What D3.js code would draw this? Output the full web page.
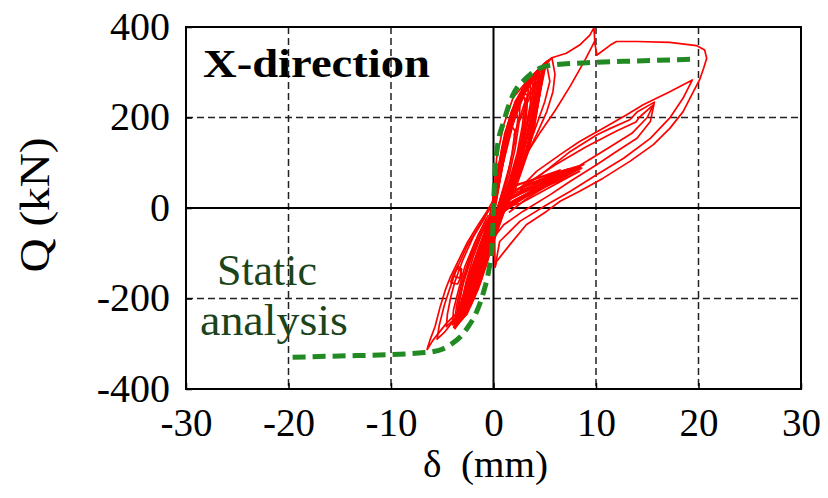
<!DOCTYPE html>
<html><head><meta charset="utf-8">
<script src="https://cdn.jsdelivr.net/npm/d3@7"></script>
<style>body{margin:0;background:#fff}svg{display:block}</style>
</head><body><svg id="c" width="828" height="498"></svg>
<script>
// ---- tick values ----
const xTicks = [-30, -20, -10, 0, 10, 20, 30];
const yTicks = [-400, -200, 0, 200, 400];
const xGrid = [-20, -10, 10, 20];
const yGrid = [-200, 200];

// ---- static analysis (green dashed) [delta mm, Q kN] ----
const staticCurve = [[-19.6,-330],[-15,-327],[-10,-324],[-7,-320],[-6,-318],[-5,-312],[-4.2,-302],[-3.2,-284],[-2.4,-260],[-1.7,-232],[-1.0,-188],[-0.4,-130],[-0.15,-90],[0,0],[0.15,80],[0.35,130],[1.0,191],[1.9,250],[3.2,287],[4.5,309],[5.8,316],[9.1,321],[14,325],[19.8,329]];

// ---- test hysteresis (red) loops [delta mm, Q kN] ----
const loopOuter = [[-6.5,-314],[-6.2,-292],[-5.7,-262],[-5.2,-218],[-4.7,-181],[-4.2,-152],[-3.4,-115],[-2.6,-78],[-1.6,-41],[-0.66,-8],[0,18],[0.3,110],[1.0,184],[1.9,243],[3.2,279],[4.2,301],[5.2,324],[5.7,332],[7.1,342],[8.4,360],[9.4,382],[9.8,398],[9.9,362],[10.1,338],[11.4,360],[12.0,368],[14.0,368],[17.2,366],[19.8,359],[20.6,349],[20.8,331],[20.5,309],[20.1,283],[19.5,257],[18.5,213],[17.2,176],[15.6,140],[13.3,103],[10.7,66],[8.4,37],[6.5,15],[5.2,-7],[3.2,-37],[1.6,-81],[0.3,-118],[0.15,-131],[0.12,-70],[0.15,-12],[-0.2,-56],[-0.7,-100],[-1.3,-144],[-2.0,-181],[-3.0,-218],[-3.6,-233],[-4.6,-255],[-5.9,-292],[-6.5,-314]];
const loop20 = [[2.6,44],[4.2,81],[6.5,118],[8.4,147],[10.7,176],[13.0,206],[14.6,228],[17.2,257],[19.4,283],[18.5,243],[17.2,199],[15.3,154],[12.7,110],[10.1,74],[7.5,37],[5.2,7],[2.6,-29],[0.6,-74],[0.15,-131]];
const loop16a = [[2.6,40],[4.2,66],[7.5,125],[10.1,162],[11.4,176],[13.3,195],[14.0,212],[15.7,234],[15.3,191],[14.0,154],[12.0,125],[10.1,96],[7.5,59],[5.5,29],[2.9,-7],[1.0,-37],[0.2,-60]];
const loop16b = [[3,50],[6,95],[9,135],[12,170],[13.9,190],[14.2,200],[15.6,228],[15.0,200],[13.5,165],[11,130],[8.5,95],[6,60],[3.5,25],[1.5,-10]];
const spikeDown = [[9.9,370],[9.0,330],[7.5,270],[6.0,215],[4.5,165],[3.5,130],[2.8,100]];
const hookA = [[2.0,160],[3.0,230],[4.5,300],[5.7,332],[6.0,296],[5.8,257],[5.2,213],[4.2,162],[3.4,125],[2.6,90]];
const hookB = [[2.5,190],[4,270],[5.2,315],[5.5,280],[5.0,235],[4.3,190],[3.5,140]];
const bunch1 = [[0.5,10],[2.6,45],[4.5,62],[6.5,78],[8.8,96],[7.5,82],[5.5,60],[3.5,30],[1.5,0],[0.3,-20]];
const bunch2 = [[0.6,20],[2.6,38],[5,62],[8.0,88],[6.5,72],[4.5,50],[2.5,22],[0.8,-5]];
const bunch3 = [[0.8,30],[3,48],[5.5,72],[7.3,86],[6,70],[4,48],[2,24],[0.6,5]];
const bunch4 = [[1,40],[3.5,60],[6.5,84],[5.5,70],[3.5,46],[1.5,22]];
const bunch5 = [[0.5,0],[2.6,10],[6,52],[8.4,81],[6.5,62],[4,35],[2,12],[0.4,-15]];
const bunch6 = [[0.4,5],[2.5,30],[5,55],[7.8,85],[8.5,90],[7,72],[4.5,42],[2.2,15],[0.4,-10]];
const bunch7 = [[0.7,25],[2.8,45],[5.2,66],[7.6,84],[6.2,66],[4.2,42],[2.2,18],[0.7,0]];
const bunch8 = [[0.3,-5],[2.2,20],[4.8,48],[7.0,70],[8.6,88],[7.2,75],[5.2,52],[3.0,25],[1.0,-8]];
const bunch9 = [[1.2,45],[3.2,58],[5.8,76],[8.2,92],[6.8,78],[4.8,56],[2.8,35],[1.2,20]];
const core1 = [[-3.6,-250],[-3.0,-200],[-2.2,-140],[-1.2,-75],[-0.3,-20],[0.3,60],[1.0,150],[2.0,225],[3.2,275],[4.3,302],[4.5,290],[4.2,225],[3.5,150],[2.8,95],[1.8,40],[0.6,-30],[-0.4,-100],[-1.5,-170],[-2.6,-225],[-3.6,-250]];
const core2 = [[-3.3,-240],[-2.7,-185],[-1.9,-125],[-1.0,-65],[-0.2,-10],[0.4,75],[1.2,165],[2.3,240],[3.5,285],[4.8,315],[4.9,300],[4.4,240],[3.7,160],[2.9,100],[2.0,45],[0.8,-20],[-0.2,-85],[-1.3,-160],[-2.4,-215],[-3.3,-240]];
const core3 = [[-3.0,-230],[-2.4,-170],[-1.6,-110],[-0.7,-50],[0,0],[0.6,90],[1.5,180],[2.6,250],[3.8,292],[4.1,270],[3.6,200],[3.0,130],[2.3,70],[1.3,10],[0.2,-60],[-0.9,-135],[-2.0,-200],[-3.0,-230]];
const core4 = [[-3.9,-265],[-3.2,-210],[-2.4,-150],[-1.4,-85],[-0.5,-30],[0.2,40],[0.9,140],[1.8,215],[3.0,268],[4.0,298],[5.2,324],[5.0,305],[4.6,260],[4.0,190],[3.2,120],[2.4,70],[1.4,20],[0.3,-50],[-0.8,-120],[-2.0,-190],[-3.1,-240],[-3.9,-265]];
const core5 = [[-2.6,-210],[-2.0,-155],[-1.3,-100],[-0.5,-40],[0.1,10],[0.8,110],[1.7,195],[2.8,255],[3.3,250],[3.0,190],[2.5,125],[1.8,65],[0.9,10],[-0.1,-60],[-1.1,-130],[-2.0,-185],[-2.6,-210]];
const core6 = [[-2.0,-180],[-1.5,-130],[-0.9,-80],[-0.2,-25],[0.4,50],[1.1,130],[2.0,205],[2.6,235],[2.5,190],[2.1,130],[1.5,70],[0.7,15],[-0.2,-50],[-1.1,-120],[-2.0,-180]];
const core7 = [[-3.4,-255],[-2.8,-195],[-2.0,-135],[-1.1,-70],[-0.3,-15],[0.3,70],[1.1,165],[2.1,235],[3.3,280],[4.6,308],[4.7,295],[4.3,230],[3.8,175],[3.1,115],[2.2,60],[1.0,0],[-0.1,-70],[-1.2,-150],[-2.4,-220],[-3.4,-255]];
const core8 = [[-1.5,-140],[-1.1,-100],[-0.6,-60],[0,-5],[0.5,60],[1.1,125],[1.8,180],[2.1,170],[1.8,120],[1.3,65],[0.6,15],[-0.2,-40],[-0.9,-100],[-1.5,-140]];
const core9 = [[-3.7,-262],[-3.0,-205],[-2.1,-140],[-1.2,-80],[-0.4,-25],[0.2,50],[0.8,130],[1.7,210],[2.8,262],[3.9,295],[5.0,318],[4.8,300],[4.3,250],[3.6,180],[2.9,120],[2.1,65],[1.1,10],[0.1,-60],[-1.0,-140],[-2.2,-205],[-3.2,-245],[-3.7,-262]];
const core10 = [[-2.9,-225],[-2.3,-170],[-1.5,-105],[-0.6,-45],[0.1,15],[0.7,100],[1.6,190],[2.6,248],[3.6,285],[3.9,265],[3.5,205],[2.9,140],[2.2,80],[1.3,25],[0.2,-45],[-0.9,-120],[-2.0,-190],[-2.9,-225]];
const core11 = [[-3.5,-258],[-2.9,-210],[-2.0,-150],[-1.0,-85],[-0.2,-30],[0.4,40],[1.2,135],[2.2,215],[3.4,268],[4.4,296],[4.3,270],[3.8,210],[3.2,150],[2.5,95],[1.6,45],[0.5,-15],[-0.5,-90],[-1.6,-165],[-2.7,-230],[-3.5,-258]];
const core12 = [[-3.2,-248],[-2.6,-200],[-1.8,-140],[-0.9,-80],[-0.1,-20],[0.5,55],[1.3,145],[2.4,228],[3.6,278],[4.0,275],[3.6,220],[3.0,160],[2.3,105],[1.5,50],[0.4,-10],[-0.6,-85],[-1.7,-170],[-2.6,-225],[-3.2,-248]];
const core13 = [[-2.8,-235],[-2.2,-185],[-1.4,-125],[-0.5,-60],[0.2,5],[0.9,95],[1.9,185],[3.0,255],[3.4,262],[3.2,215],[2.7,150],[2.1,95],[1.3,40],[0.3,-25],[-0.7,-105],[-1.8,-185],[-2.8,-235]];
const core14 = [[-3.8,-268],[-3.1,-220],[-2.2,-160],[-1.2,-95],[-0.3,-35],[0.3,30],[1.0,120],[2.0,205],[3.1,262],[4.2,300],[4.9,318],[4.8,290],[4.4,235],[3.9,175],[3.3,125],[2.6,80],[1.7,30],[0.6,-30],[-0.5,-105],[-1.7,-180],[-2.9,-240],[-3.8,-268]];
const core15 = [[-2.4,-200],[-1.8,-150],[-1.1,-95],[-0.3,-40],[0.3,25],[1.0,115],[1.9,200],[2.9,250],[3.1,235],[2.8,180],[2.3,120],[1.6,65],[0.8,15],[-0.2,-55],[-1.2,-135],[-2.4,-200]];
const core16 = [[-1.8,-170],[-1.3,-120],[-0.7,-70],[0,-15],[0.6,60],[1.3,140],[2.2,210],[2.4,200],[2.1,150],[1.6,95],[0.9,40],[0.1,-25],[-0.8,-100],[-1.8,-170]];
const core17 = [[-3.0,-240],[-2.5,-195],[-1.7,-135],[-0.8,-75],[0,-10],[0.7,75],[1.6,170],[2.7,240],[3.9,288],[4.4,288],[4.0,240],[3.4,175],[2.7,115],[1.9,60],[0.9,5],[-0.2,-70],[-1.3,-155],[-2.3,-215],[-3.0,-240]];
const core18 = [[-3.6,-255],[-3.1,-215],[-2.3,-160],[-1.4,-100],[-0.6,-45],[0.1,15],[0.7,95],[1.5,180],[2.5,240],[3.7,285],[4.4,305],[4.6,280],[4.1,215],[3.4,140],[2.6,85],[1.6,30],[0.4,-40],[-0.7,-120],[-1.9,-195],[-2.9,-240],[-3.6,-255]];
const core19 = [[-3.4,-250],[-2.7,-195],[-1.8,-130],[-0.8,-65],[0,0],[0.5,80],[1.4,175],[2.5,240],[3.7,283],[4.5,300],[4.4,260],[3.9,195],[3.3,135],[2.7,90],[2.0,50],[1.1,5],[0,-60],[-1.1,-140],[-2.3,-210],[-3.4,-250]];
const core20 = [[-3.1,-245],[-2.5,-190],[-1.7,-128],[-0.9,-70],[-0.2,-15],[0.4,60],[1.1,150],[2.1,220],[3.2,268],[4.1,290],[4.2,255],[3.8,190],[3.2,130],[2.6,85],[1.9,45],[1.0,0],[-0.1,-65],[-1.2,-145],[-2.3,-215],[-3.1,-245]];
const core21 = [[-2.7,-225],[-2.1,-175],[-1.3,-115],[-0.4,-50],[0.2,15],[0.8,105],[1.8,195],[2.9,255],[3.6,270],[3.6,230],[3.1,170],[2.6,115],[2.0,65],[1.2,20],[0.2,-40],[-0.8,-115],[-1.8,-185],[-2.7,-225]];
const core22 = [[-3.8,-262],[-3.2,-218],[-2.4,-160],[-1.5,-100],[-0.6,-40],[0.1,20],[0.6,100],[1.4,185],[2.5,250],[3.8,292],[5.0,320],[4.7,290],[4.2,230],[3.6,165],[3.0,110],[2.3,65],[1.4,15],[0.3,-45],[-0.8,-125],[-2.0,-200],[-3.0,-245],[-3.8,-262]];
const core23 = [[-2.2,-195],[-1.6,-140],[-0.9,-85],[-0.2,-30],[0.4,35],[1.0,110],[1.9,190],[2.9,245],[3.3,240],[3.2,200],[2.8,150],[2.3,100],[1.7,55],[0.9,10],[-0.1,-50],[-1.1,-125],[-2.2,-195]];
const core24 = [[-3.5,-252],[-2.9,-200],[-2.0,-140],[-1.1,-78],[-0.3,-25],[0.3,45],[0.9,125],[1.9,205],[3.1,263],[4.3,298],[4.6,295],[4.5,250],[4.0,180],[3.4,125],[2.8,85],[2.1,40],[1.1,-5],[0,-75],[-1.1,-150],[-2.4,-220],[-3.5,-252]];
const neg2 = [[0,-20],[-1.0,-90],[-2.2,-170],[-3.4,-235],[-4.8,-275],[-5.5,-290],[-5.3,-260],[-4.8,-215],[-4.3,-180],[-3.6,-135],[-2.6,-85],[-1.4,-40],[-0.3,0]];
const neg3 = [[-0.2,-30],[-1.4,-120],[-2.6,-200],[-3.8,-245],[-4.6,-262],[-4.5,-235],[-4.2,-200],[-3.8,-165],[-3.0,-115],[-2.0,-65],[-0.8,-20]];
const neg4 = [[0.1,-10],[-0.8,-80],[-1.9,-160],[-3.0,-225],[-3.8,-255],[-3.6,-215],[-3.1,-165],[-2.4,-115],[-1.5,-60],[-0.5,-15]];
const neg5 = [[0,-35],[-1.1,-115],[-2.3,-190],[-3.3,-240],[-4.0,-258],[-3.9,-225],[-3.4,-180],[-2.8,-130],[-1.8,-75],[-0.7,-25]];
const neg6 = [[-0.3,-50],[-1.3,-125],[-2.5,-205],[-3.5,-248],[-3.3,-205],[-2.9,-160],[-2.2,-110],[-1.3,-60],[-0.4,-20]];
const neg7 = [[0.2,-40],[-0.4,-95],[-1.2,-160],[-2.2,-215],[-3.2,-250],[-3.1,-210],[-2.7,-165],[-2.0,-110],[-1.2,-60],[-0.3,-15]];
const neg8 = [[0.1,-60],[-0.6,-120],[-1.5,-180],[-2.6,-235],[-3.6,-258],[-3.5,-220],[-3.0,-170],[-2.3,-120],[-1.5,-70],[-0.6,-30]];
const small1 = [[-4.2,-165],[-3.8,-140],[-3.3,-132],[-3.1,-148],[-3.5,-168],[-4.2,-165]];
const small2 = [[-3.9,-150],[-3.5,-128],[-3.1,-135],[-3.3,-155],[-3.9,-150]];

const redLoops = [loopOuter, loop20, loop16a, loop16b, spikeDown, hookA, hookB,
  bunch1, bunch2, bunch3, bunch4, bunch5, bunch6, bunch7, bunch8, bunch9,
  core1, core2, core3, core4, core5, core6, core7, core8, core9, core10,
  core11, core12, core13, core14, core15, core16, core17, core18,
  core19, core20, core21, core22, core23, core24,
  neg2, neg3, neg4, neg5, neg6, neg7, neg8, small1, small2];

// ---- texts ----
const xTitle = "δ  (mm)";
const yTitle = "Q (kN)";
const panelTitle = "X-direction";
const staticLabel = ["Static", "analysis"];

const serif = "'Liberation Serif','Times New Roman',serif";
const svg = d3.select("#c");
const x = d3.scaleLinear().domain([-30, 30]).range([186, 801]);
const y = d3.scaleLinear().domain([-400, 400]).range([389, 27]);

svg.append("defs").append("clipPath").attr("id","clip")
  .append("rect").attr("x",x(-30)).attr("y",y(400)).attr("width",x(30)-x(-30)).attr("height",y(-400)-y(400));

// grid
const g = svg.append("g");
g.selectAll(".vg").data(xGrid).join("line")
  .attr("x1",d=>x(d)).attr("x2",d=>x(d)).attr("y1",y(400)).attr("y2",y(-400))
  .attr("stroke","#222").attr("stroke-width",1.5).attr("stroke-dasharray","7,4");
g.selectAll(".hg").data(yGrid).join("line")
  .attr("y1",d=>y(d)).attr("y2",d=>y(d)).attr("x1",x(-30)).attr("x2",x(30))
  .attr("stroke","#222").attr("stroke-width",1.5).attr("stroke-dasharray","7,4");
// zero lines
g.append("line").attr("x1",x(0)).attr("x2",x(0)).attr("y1",y(400)).attr("y2",y(-400)).attr("stroke","#000").attr("stroke-width",2);
g.append("line").attr("y1",y(0)).attr("y2",y(0)).attr("x1",x(-30)).attr("x2",x(30)).attr("stroke","#000").attr("stroke-width",2);

// axes
const xa = svg.append("g").attr("transform",`translate(0,${y(-400)})`)
  .call(d3.axisBottom(x).tickValues(xTicks).tickSize(-6).tickFormat(d=>String(d)));
xa.select(".domain").remove();
xa.selectAll("line").attr("stroke","#000").attr("stroke-width",1.5);
xa.selectAll("text").attr("y",47).attr("dy",0).attr("fill","#000")
  .style("font-family",serif).style("font-size","39px");
const ya = svg.append("g").attr("transform",`translate(${x(-30)},0)`)
  .call(d3.axisLeft(y).tickValues(yTicks).tickSize(-6).tickFormat(d=>String(d)));
ya.select(".domain").remove();
ya.selectAll("line").attr("stroke","#000").attr("stroke-width",1.5);
ya.selectAll("text").attr("x",-16).attr("y",12).attr("dy",0).attr("fill","#000")
  .style("font-family",serif).style("font-size","40px");

// data
const line = d3.line().x(d=>x(d[0])).y(d=>y(d[1]));
const plot = svg.append("g").attr("clip-path","url(#clip)");
plot.selectAll(".red").data(redLoops).join("path")
  .attr("d",line).attr("fill","none").attr("stroke","#ff0000").attr("stroke-width",1.7)
  .attr("stroke-linejoin","round");
plot.append("path").datum(staticCurve)
  .attr("d",d3.line().x(d=>x(d[0])).y(d=>y(d[1])).curve(d3.curveMonotoneX))
  .attr("fill","none").attr("stroke","#228a22").attr("stroke-width",5)
  .attr("stroke-dasharray","13,7");

// frame
svg.append("rect").attr("x",x(-30)).attr("y",y(400)).attr("width",x(30)-x(-30)).attr("height",y(-400)-y(400))
  .attr("fill","none").attr("stroke","#000").attr("stroke-width",2);

// texts
svg.append("text").attr("x",203).attr("y",77).text(panelTitle)
  .attr("textLength",227).attr("lengthAdjust","spacingAndGlyphs")
  .style("font-family",serif).style("font-size","40px").style("font-weight","bold").attr("fill","#000");
svg.append("text").attr("x",217).attr("y",285).text(staticLabel[0])
  .attr("textLength",100).attr("lengthAdjust","spacingAndGlyphs")
  .style("font-family",serif).style("font-size","44px").attr("fill","#1b441b");
svg.append("text").attr("x",200).attr("y",335).text(staticLabel[1])
  .attr("textLength",148).attr("lengthAdjust","spacingAndGlyphs")
  .style("font-family",serif).style("font-size","44px").attr("fill","#1b441b");
svg.append("text").attr("x",423).attr("y",477).text(xTitle)
  .style("white-space","pre").attr("textLength",125).attr("lengthAdjust","spacingAndGlyphs")
  .style("font-family",serif).style("font-size","37px").attr("fill","#000");
svg.append("text").attr("transform","translate(49,205) rotate(-90)").attr("text-anchor","middle").text(yTitle)
  .attr("textLength",135).attr("lengthAdjust","spacingAndGlyphs")
  .style("font-family",serif).style("font-size","42px").attr("fill","#000");
</script></body></html>
